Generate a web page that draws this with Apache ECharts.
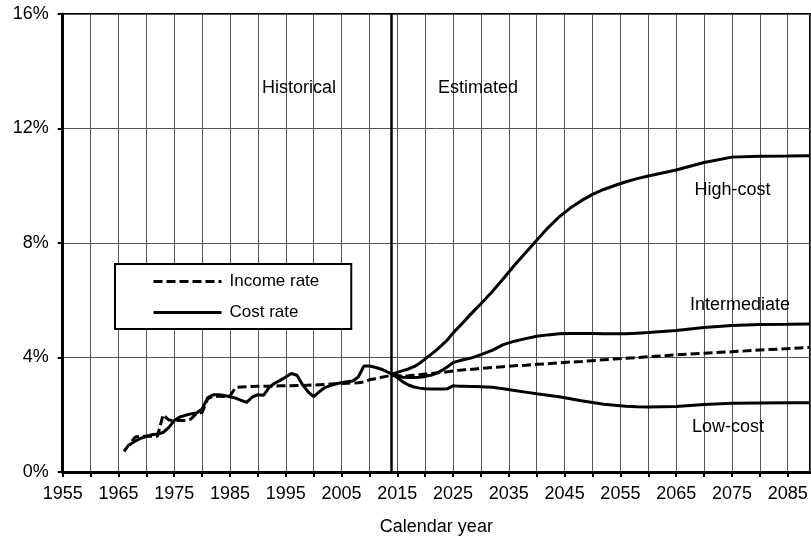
<!DOCTYPE html>
<html>
<head>
<meta charset="utf-8">
<script src="https://cdn.jsdelivr.net/npm/echarts@6/dist/echarts.min.js"></script>
<style>html,body{margin:0;padding:0;background:#fff;}#c{width:811px;height:541px;}</style>
</head>
<body>
<div id="c"></div>
<script>
// Historical income rate (% of taxable payroll)
const incomeHistYears = [1966,1967,1968,1969,1970,1971,1972,1973,1974,1975,1976,1977,1978,1979,1980,1981,1982,1983,1984,1985,1986,1987,1988,1989,1990,1991,1992,1993,1994,1995,1996,1997,1998,1999,2000,2001,2002,2003,2004,2005,2006,2007,2008,2009,2010,2011,2012,2013];
const incomeHist = [0.72,0.98,1.22,1.25,1.25,1.25,1.25,2.0,1.82,1.80,1.80,1.80,1.85,2.05,2.08,2.55,2.65,2.65,2.64,2.66,2.95,2.97,2.98,2.99,3.0,3.0,3.0,3.0,3.01,3.01,3.01,3.02,3.02,3.03,3.04,3.05,3.06,3.07,3.08,3.09,3.10,3.11,3.12,3.15,3.22,3.26,3.30,3.34];

// Historical cost rate
const costHistYears = [1967,1968,1969,1970,1971,1972,1973,1974,1975,1976,1977,1978,1979,1980,1981,1982,1983,1984,1985,1986,1987,1988,1989,1990,1991,1992,1993,1994,1995,1996,1997,1998,1999,2000,2001,2002,2003,2004,2005,2006,2007,2008,2009,2010,2011,2012,2013,2014];
const costHist = [0.95,1.08,1.18,1.24,1.30,1.33,1.38,1.55,1.80,1.92,1.98,2.03,2.06,2.20,2.60,2.70,2.70,2.67,2.63,2.58,2.50,2.43,2.62,2.70,2.68,2.95,3.10,3.20,3.32,3.44,3.38,3.05,2.80,2.63,2.80,2.95,3.02,3.08,3.12,3.15,3.18,3.32,3.70,3.70,3.66,3.60,3.52,3.42];

// Projection years
const projYears = [2014,2015,2016,2017,2018,2019,2020,2021,2022,2023,2024,2025,2026,2027,2028,2029,2030,2032,2034,2036,2038,2040,2042,2044,2046,2048,2050,2052,2054,2056,2058,2060,2065,2070,2075,2080,2085,2089];
const incomeProj = [3.38,3.36,3.35,3.36,3.38,3.40,3.42,3.44,3.46,3.48,3.50,3.53,3.55,3.57,3.58,3.60,3.62,3.65,3.68,3.71,3.73,3.76,3.78,3.81,3.84,3.86,3.89,3.92,3.95,3.97,4.00,4.03,4.09,4.15,4.20,4.26,4.31,4.35];
const costHigh = [3.42,3.48,3.54,3.60,3.68,3.80,3.95,4.10,4.26,4.43,4.62,4.86,5.06,5.27,5.48,5.68,5.88,6.30,6.75,7.22,7.66,8.10,8.53,8.91,9.22,9.48,9.70,9.87,10.01,10.14,10.25,10.34,10.55,10.81,11.00,11.03,11.04,11.05];
const costInter = [3.42,3.36,3.31,3.30,3.30,3.31,3.34,3.38,3.45,3.55,3.68,3.82,3.88,3.93,3.97,4.03,4.10,4.25,4.45,4.57,4.66,4.74,4.79,4.83,4.84,4.84,4.84,4.83,4.83,4.83,4.85,4.87,4.94,5.05,5.12,5.15,5.16,5.17];
const costLow = [3.42,3.30,3.15,3.04,2.97,2.93,2.91,2.90,2.90,2.90,2.91,3.01,3.00,3.00,2.99,2.99,2.98,2.96,2.91,2.85,2.79,2.73,2.68,2.63,2.56,2.49,2.43,2.37,2.33,2.30,2.28,2.27,2.29,2.36,2.40,2.41,2.42,2.42];

const xTickLabels = [1955,1965,1975,1985,1995,2005,2015,2025,2035,2045,2055,2065,2075,2085];
const yTickLabels = ['0%','4%','8%','12%','16%'];
const legendNames = ['Income rate','Cost rate'];
const texts = {hist:'Historical', est:'Estimated', high:'High-cost', inter:'Intermediate', low:'Low-cost', xname:'Calendar year'};
const divideYear = 2014;

const pair = (xs, ys) => xs.map((x,i)=>[x, ys[i]]);
const FONT = '"Liberation Sans", Arial, sans-serif';
const chart = echarts.init(document.getElementById('c'), null, {renderer:'canvas'});

const solid = {color:'#000', width:3, type:'solid'};
const dashed = {color:'#000', width:3, type:[9,4]};

chart.setOption({
  animation:false,
  backgroundColor:'#fff',
  textStyle:{fontFamily:FONT, color:'#000'},
  grid:{left:62.7, right:1, top:14, bottom:66, show:true, borderColor:'#000', borderWidth:2, backgroundColor:'transparent'},
  xAxis:{
    type:'value', min:1955, max:2089, interval:5,
    name:texts.xname, nameLocation:'middle', nameGap:46,
    nameTextStyle:{fontSize:18, color:'#000', fontFamily:FONT},
    axisLine:{show:true, lineStyle:{color:'#000', width:3}},
    axisTick:{show:true, length:5, lineStyle:{color:'#000', width:2}},
    axisLabel:{fontSize:18, color:'#000', margin:13, fontFamily:FONT, showMaxLabel:false,
      formatter:v => xTickLabels.indexOf(v) >= 0 ? String(v) : ''},
    splitLine:{show:true, lineStyle:{color:'#555', width:1}}
  },
  yAxis:{
    type:'value', min:0, max:16, interval:4,
    axisLine:{show:true, lineStyle:{color:'#000', width:3}},
    axisTick:{show:true, length:5, lineStyle:{color:'#000', width:2}},
    axisLabel:{fontSize:18, color:'#000', margin:14, fontFamily:FONT,
      formatter:v => yTickLabels[Math.round(v/4)]},
    splitLine:{show:true, lineStyle:{color:'#555', width:1}}
  },
  legend:{
    data:legendNames, orient:'vertical', left:115, top:264,
    itemWidth:68, itemHeight:14, itemGap:14,
    padding:[9,32,8,37],
    borderColor:'#000', borderWidth:2, backgroundColor:'#fff',
    itemStyle:{opacity:0, borderWidth:0},
    lineStyle:{width:3, color:'#000'},
    textStyle:{fontSize:17, color:'#000', fontFamily:FONT, padding:[0,0,0,3]},
    selectedMode:false
  },
  series:[
    {name:legendNames[0], type:'line', symbol:'none', lineStyle:dashed, itemStyle:{color:'#000'},
      data:pair(incomeHistYears, incomeHist).concat(pair(projYears, incomeProj)), z:3},
    {name:legendNames[1], type:'line', symbol:'none', lineStyle:solid, itemStyle:{color:'#000'},
      data:pair(costHistYears, costHist), z:4,
      markLine:{silent:true, symbol:'none', label:{show:false},
        lineStyle:{color:'#000', width:2.5, type:'solid'}, data:[{xAxis:divideYear}]}},
    {name:legendNames[1], type:'line', symbol:'none', lineStyle:solid, itemStyle:{color:'#000'}, data:pair(projYears, costHigh), z:4},
    {name:legendNames[1], type:'line', symbol:'none', lineStyle:solid, itemStyle:{color:'#000'}, data:pair(projYears, costInter), z:4},
    {name:legendNames[1], type:'line', symbol:'none', lineStyle:solid, itemStyle:{color:'#000'}, data:pair(projYears, costLow), z:4}
  ],
  graphic:[
    {type:'text', x:299, y:88, style:{text:texts.hist, fontSize:18, fontFamily:FONT, fill:'#000', textAlign:'center', textVerticalAlign:'middle'}, z:10},
    {type:'text', x:478, y:88, style:{text:texts.est, fontSize:18, fontFamily:FONT, fill:'#000', textAlign:'center', textVerticalAlign:'middle'}, z:10},
    {type:'text', x:732.5, y:190, style:{text:texts.high, fontSize:18, fontFamily:FONT, fill:'#000', textAlign:'center', textVerticalAlign:'middle'}, z:10},
    {type:'text', x:740, y:305, style:{text:texts.inter, fontSize:18, fontFamily:FONT, fill:'#000', textAlign:'center', textVerticalAlign:'middle'}, z:10},
    {type:'text', x:728, y:427, style:{text:texts.low, fontSize:18, fontFamily:FONT, fill:'#000', textAlign:'center', textVerticalAlign:'middle'}, z:10}
  ]
});
</script>
</body>
</html>
